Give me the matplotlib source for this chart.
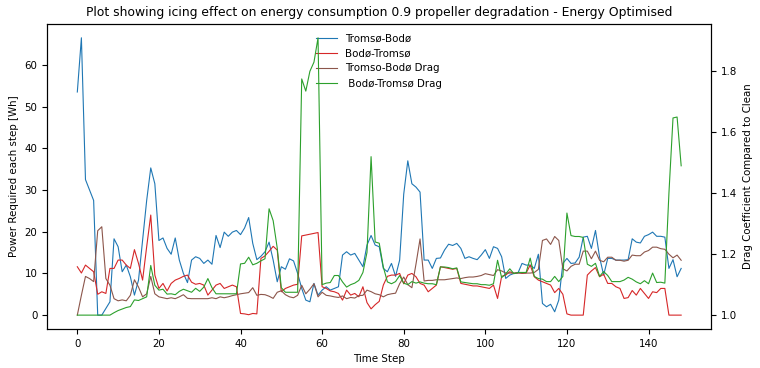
"""
Icing effect on energy consumption, two routes plus drag coefficient.
"""
import matplotlib
matplotlib.use('Agg')
import matplotlib.pyplot as plt
import numpy as np

# energy per step [Wh]
tromso_bodo = [
    53.5, 66.5, 32.5, 30, 27.5, 0, 0, 1.6, 3.2, 18.3,
    16.4, 10.4, 12, 9.2, 4.8, 8.4, 17.9, 27.5, 35.3, 31.5,
    17.9, 18.5, 16, 14.6, 18.5, 13.2, 10, 7.8, 13.2, 14,
    13.6, 12.4, 13.2, 12.2, 19.1, 16.2, 19.9, 18.9, 19.9, 20.3,
    19.3, 20.9, 23.4, 17.2, 13.3, 14.1, 15.2, 17.5, 13.2, 8,
    11.6, 11, 13.5, 13, 10, 6.4, 3.6, 3.2, 7.6, 4.8,
    6, 6.8, 6, 6.4, 6.8, 14.4, 15.2, 14.4, 14.8, 13.2,
    11.6, 16.8, 19.1, 16.8, 16.4, 11.2, 10.4, 12.4, 9.3, 13.2,
    29, 37, 31.5, 30.7, 29.5, 13.2, 13.2, 11.2, 13.6, 13.7,
    15.6, 17, 16.7, 17.2, 16, 13.6, 14, 13.6, 13.3, 14.4,
    15.7, 13.6, 16.4, 16, 14, 8.8, 9.6, 10, 10.1, 12.4,
    12, 12, 11.2, 14.6, 2.8, 2, 2.6, 0.8, 3.6, 12.4,
    13.6, 12.4, 12.5, 13.9, 18.7, 18.9, 16, 20.3, 13.9, 9.6,
    13.6, 13.6, 13.2, 13.2, 13.2, 13.3, 18.3, 17.5, 17.3, 18.9,
    19.3, 19.9, 18.9, 18.9, 18.7, 11.2, 13.3, 9.2, 11.2,
]

bodo_tromso = [
    11.6, 10.1, 12, 11.2, 10.4, 5, 5.6, 5.2, 11.2, 11.2,
    13.2, 13.2, 12, 11.2, 15.7, 12.4, 8.4, 16.4, 24, 9.6,
    6.4, 7.6, 5.8, 7.6, 8.4, 8.8, 9.3, 9.6, 7.9, 7.4,
    7.6, 7.2, 4.8, 6, 7.2, 7.6, 6.4, 6.8, 7.2, 6.8,
    0.4, 0.3, 0.1, 0.4, 0.3, 13.6, 14.2, 15.3, 16.5, 15.6,
    5.6, 6.4, 6.8, 7.2, 7.4, 19, 19.2, 19.4, 19.6, 19.8,
    6.8, 6.4, 5.8, 5.6, 5.2, 3.6, 6, 4.8, 5.2, 4.4,
    6.8, 3, 1.5, 2.5, 3.3, 7.2, 9.3, 9.6, 9.6, 10,
    7.5, 9.6, 10, 9.2, 7.6, 7.2, 5.6, 6.4, 7.2, 11.6,
    11.4, 11.2, 11, 11.2, 7.6, 7.4, 7.2, 7, 7, 6.8,
    6.6, 6.4, 7.2, 4, 9.3, 9.6, 10.4, 10, 10.2, 10,
    10.1, 12, 9.2, 8.4, 8, 7.6, 7.2, 5.4, 6.4, 5,
    0.3, 0, 0, 0, 0, 9.6, 10.6, 11.4, 9.2, 9.8,
    7.6, 7.6, 6.8, 6.4, 4, 4.2, 5.9, 4.8, 6.4, 5.2,
    4, 5.6, 5.4, 6.4, 6.4, 0, 0, 0, 0,
]

# drag coefficient relative to clean
tromso_bodo_drag = [
    1.0, 1.065, 1.127, 1.12, 1.11, 1.277, 1.29, 1.12, 1.098, 1.054,
    1.047, 1.05, 1.047, 1.065, 1.116, 1.092, 1.06, 1.07, 1.127, 1.07,
    1.06, 1.057, 1.054, 1.057, 1.054, 1.06, 1.067, 1.055, 1.054, 1.054,
    1.054, 1.054, 1.054, 1.057, 1.054, 1.06, 1.057, 1.06, 1.064, 1.067,
    1.07, 1.072, 1.074, 1.09, 1.065, 1.068, 1.067, 1.062, 1.055, 1.075,
    1.08, 1.067, 1.06, 1.057, 1.065, 1.098, 1.07, 1.085, 1.103, 1.06,
    1.075, 1.065, 1.063, 1.06, 1.058, 1.063, 1.054, 1.058, 1.056, 1.064,
    1.065, 1.082, 1.077, 1.07, 1.067, 1.06, 1.067, 1.07, 1.072, 1.103,
    1.125, 1.1, 1.09, 1.167, 1.25, 1.112, 1.114, 1.114, 1.116, 1.116,
    1.116, 1.118, 1.12, 1.122, 1.12, 1.123, 1.125, 1.125, 1.127, 1.13,
    1.136, 1.133, 1.13, 1.149, 1.145, 1.138, 1.138, 1.138, 1.138, 1.138,
    1.138, 1.138, 1.14, 1.15, 1.245, 1.25, 1.232, 1.258, 1.245, 1.152,
    1.145, 1.16, 1.167, 1.167, 1.21, 1.21, 1.185, 1.21, 1.18, 1.175,
    1.19, 1.19, 1.18, 1.18, 1.177, 1.18, 1.197, 1.195, 1.195, 1.207,
    1.212, 1.223, 1.223, 1.218, 1.216, 1.2, 1.188, 1.197, 1.18,
]

bodo_tromso_drag = [
    1.0, 1.0, 1.0, 1.0, 1.0, 1.0, 1.0, 1.0, 1.0, 1.008,
    1.015, 1.02, 1.025, 1.028, 1.05, 1.048, 1.054, 1.06, 1.163, 1.098,
    1.082, 1.085, 1.069, 1.07, 1.067, 1.078, 1.085, 1.08, 1.075, 1.088,
    1.078, 1.092, 1.12, 1.09, 1.07, 1.07, 1.07, 1.07, 1.07, 1.07,
    1.168, 1.17, 1.19, 1.165, 1.17, 1.178, 1.185, 1.349, 1.31, 1.22,
    1.09, 1.075, 1.075, 1.075, 1.075, 1.775, 1.735, 1.8, 1.83, 1.91,
    1.1, 1.105, 1.107, 1.13, 1.13, 1.109, 1.092, 1.1, 1.105, 1.114,
    1.14, 1.206, 1.52, 1.24, 1.236, 1.158, 1.109, 1.103, 1.11, 1.13,
    1.105, 1.1, 1.11, 1.105, 1.109, 1.105, 1.103, 1.103, 1.1, 1.158,
    1.158, 1.156, 1.152, 1.155, 1.109, 1.107, 1.105, 1.103, 1.103, 1.1,
    1.1, 1.098, 1.103, 1.18, 1.123, 1.135, 1.152, 1.136, 1.14, 1.14,
    1.14, 1.187, 1.127, 1.12, 1.118, 1.11, 1.11, 1.127, 1.11, 1.127,
    1.335, 1.261, 1.258, 1.258, 1.255, 1.167, 1.16, 1.17, 1.127, 1.143,
    1.13, 1.11, 1.11, 1.11, 1.115, 1.124, 1.118, 1.109, 1.103, 1.113,
    1.103, 1.138, 1.107, 1.108, 1.105, 1.4, 1.647, 1.65, 1.49,
]

steps = np.arange(len(tromso_bodo))

fs = 7.4
plt.rcParams['font.size'] = fs

fig, ax = plt.subplots(figsize=(7.6, 3.68), dpi=100)
fig.subplots_adjust(left=0.062, right=0.936, bottom=0.106, top=0.935)

l1, = ax.plot(steps, tromso_bodo, color='tab:blue', lw=0.8, label='Tromsø-Bodø')
l2, = ax.plot(steps, bodo_tromso, color='tab:red', lw=0.8, label='Bodø-Tromsø')
ax.set_xlabel('Time Step', fontsize=fs)
ax.set_ylabel('Power Required each step [Wh]', fontsize=fs)

ax2 = ax.twinx()
l3, = ax2.plot(steps, tromso_bodo_drag, color='tab:brown', lw=0.8, label='Tromso-Bodø Drag')
l4, = ax2.plot(steps, bodo_tromso_drag, color='tab:green', lw=0.8, label=' Bodø-Tromsø Drag')
ax2.set_ylabel('Drag Coefficient Compared to Clean', fontsize=fs)

ax.tick_params(labelsize=fs)
ax2.tick_params(labelsize=fs)

ax.legend(handles=[l1, l2, l3, l4], loc='upper center', frameon=False, fontsize=fs)
ax.set_title('Plot showing icing effect on energy consumption 0.9 propeller degradation - Energy Optimised',
             fontsize=8.9)

plt.savefig('out.png', dpi=100)
